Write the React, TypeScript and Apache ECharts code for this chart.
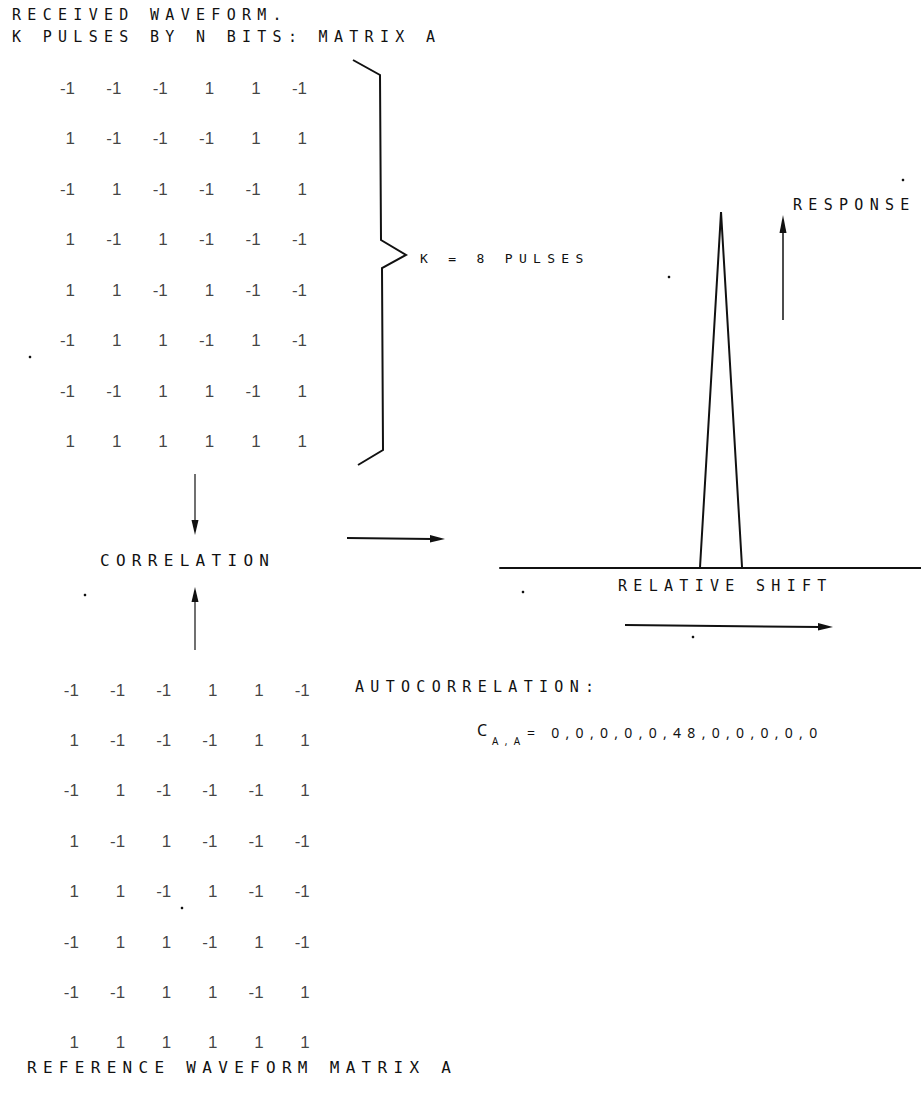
import React, { useEffect, useRef } from "react";
import * as echarts from "echarts";

// ---- data ----
const bitColumns = ["b1", "b2", "b3", "b4", "b5", "b6"];
const pulseRows = ["k1", "k2", "k3", "k4", "k5", "k6", "k7", "k8"];
const receivedMatrixA = [
  [-1, -1, -1, 1, 1, -1],
  [1, -1, -1, -1, 1, 1],
  [-1, 1, -1, -1, -1, 1],
  [1, -1, 1, -1, -1, -1],
  [1, 1, -1, 1, -1, -1],
  [-1, 1, 1, -1, 1, -1],
  [-1, -1, 1, 1, -1, 1],
  [1, 1, 1, 1, 1, 1],
];
const referenceMatrixA = [
  [-1, -1, -1, 1, 1, -1],
  [1, -1, -1, -1, 1, 1],
  [-1, 1, -1, -1, -1, 1],
  [1, -1, 1, -1, -1, -1],
  [1, 1, -1, 1, -1, -1],
  [-1, 1, 1, -1, 1, -1],
  [-1, -1, 1, 1, -1, 1],
  [1, 1, 1, 1, 1, 1],
];
const relativeShifts = [-5, -4, -3, -2, -1, 0, 1, 2, 3, 4, 5];
const autocorrelation = [0, 0, 0, 0, 0, 48, 0, 0, 0, 0, 0];

const titleLine1 = "RECEIVED WAVEFORM.";
const titleLine2 = "K PULSES BY N BITS: MATRIX A";
const braceLabel = "K = 8 PULSES";
const correlationLabel = "CORRELATION";
const responseLabel = "RESPONSE";
const shiftLabel = "RELATIVE SHIFT";
const autoLabel = "AUTOCORRELATION:";
const referenceLabel = "REFERENCE WAVEFORM MATRIX A";

const INK = "#111";
const MONO = "DejaVu Sans Mono";

function matrixPoints(m: number[][]) {
  const out: number[][] = [];
  m.forEach((row, r) => row.forEach((v, c) => out.push([c, r, v])));
  return out;
}

function txt(text: string, x: number, y: number, size: number, family = MONO) {
  return {
    type: "text",
    x,
    y,
    silent: true,
    style: {
      text,
      fill: INK,
      fontSize: size,
      fontFamily: family,
      textAlign: "left",
      textVerticalAlign: "middle",
      align: "left",
      verticalAlign: "middle",
    },
  };
}

function seg(x1: number, y1: number, x2: number, y2: number, w = 2) {
  return {
    type: "line",
    silent: true,
    shape: { x1, y1, x2, y2 },
    style: { stroke: INK, lineWidth: w },
  };
}

function head(points: number[][]) {
  return { type: "polygon", silent: true, shape: { points }, style: { fill: INK } };
}

function speck(cx: number, cy: number) {
  return { type: "circle", silent: true, shape: { cx, cy, r: 1.3 }, style: { fill: INK } };
}

const matrixLabel = {
  show: true,
  position: "inside",
  align: "right",
  verticalAlign: "middle",
  fontFamily: "Liberation Sans",
  fontSize: 17,
  color: INK,
  formatter: (p: any) => String(p.value[2]),
};

const option: any = {
  animation: false,
  backgroundColor: "#fff",
  grid: [
    { left: 51.8, top: 62.75, width: 278.4, height: 404 },
    { left: 55.9, top: 664.8, width: 277, height: 403.2 },
    { left: 500, top: 212, width: 421, height: 356 },
  ],
  xAxis: [
    { type: "category", gridIndex: 0, data: bitColumns, show: false },
    { type: "category", gridIndex: 1, data: bitColumns, show: false },
    {
      type: "value",
      gridIndex: 2,
      min: -10.5,
      max: 9.5,
      axisLine: { show: true, onZero: true, lineStyle: { color: INK, width: 2 } },
      axisTick: { show: false },
      axisLabel: { show: false },
      splitLine: { show: false },
    },
  ],
  yAxis: [
    { type: "category", gridIndex: 0, data: pulseRows, inverse: true, show: false },
    { type: "category", gridIndex: 1, data: pulseRows, inverse: true, show: false },
    { type: "value", gridIndex: 2, min: 0, max: 48, show: false },
  ],
  series: [
    {
      type: "scatter",
      xAxisIndex: 0,
      yAxisIndex: 0,
      data: matrixPoints(receivedMatrixA),
      symbolSize: 1,
      itemStyle: { color: "rgba(0,0,0,0)" },
      label: matrixLabel,
      silent: true,
      emphasis: { disabled: true },
    },
    {
      type: "scatter",
      xAxisIndex: 1,
      yAxisIndex: 1,
      data: matrixPoints(referenceMatrixA),
      symbolSize: 1,
      itemStyle: { color: "rgba(0,0,0,0)" },
      label: matrixLabel,
      silent: true,
      emphasis: { disabled: true },
    },
    {
      type: "line",
      xAxisIndex: 2,
      yAxisIndex: 2,
      data: relativeShifts.map((s, i) => [s, autocorrelation[i]]),
      symbol: "none",
      lineStyle: { color: INK, width: 2 },
      silent: true,
      emphasis: { disabled: true },
    },
  ],
  graphic: {
    elements: [
      txt(titleLine1, 12, 15, 15),
      txt(titleLine2, 12, 37, 15),
      // brace
      {
        type: "polyline",
        silent: true,
        shape: {
          points: [
            [353, 60],
            [380, 75],
            [381, 240],
            [406, 255],
            [382, 268],
            [383, 450],
            [358, 465],
          ],
        },
        style: { stroke: INK, lineWidth: 2, fill: null },
      },
      txt(braceLabel, 420, 258, 13),
      // correlation arrows
      seg(195, 474, 195, 524, 1.2),
      head([[191.5, 520], [198.5, 520], [195, 535]]),
      txt(correlationLabel, 100, 560, 16),
      seg(195, 598, 195, 650, 1.2),
      head([[191.5, 602], [198.5, 602], [195, 587]]),
      seg(347, 538, 432, 539, 2),
      head([[430, 535], [430, 542.5], [445, 539]]),
      // response arrow
      seg(783, 320, 783, 228, 1.5),
      head([[779.5, 233], [786.5, 233], [783, 215]]),
      txt(responseLabel, 793, 205, 15),
      txt(shiftLabel, 618, 586, 15),
      seg(625, 625, 820, 627, 2),
      head([[818, 623], [818, 630.5], [833, 627]]),
      txt(autoLabel, 355, 687, 15),
      txt("C", 477, 730, 16, "Noto Sans"),
      txt("A,A", 492, 741, 10, "Noto Sans"),
      txt("= " + autocorrelation.join(","), 527, 732, 14, "Noto Sans"),
      txt(referenceLabel, 27, 1067, 16),
      // scanning specks
      speck(669, 277),
      speck(30, 357),
      speck(85, 595),
      speck(523, 592),
      speck(693, 637),
      speck(903, 180),
      speck(182, 908),
    ],
  },
};

const css = `
.drawing text { letter-spacing: 6.3px; }
.drawing text[style*="Liberation"] { letter-spacing: 0; }
`;

export default function App() {
  const ref = useRef<HTMLDivElement>(null);
  useEffect(() => {
    if (!ref.current) return;
    const chart = echarts.init(ref.current, null, { renderer: "svg" });
    chart.setOption(option);
    return () => chart.dispose();
  }, []);
  return (
    <>
      <style>{css}</style>
      <div
        ref={ref}
        className="drawing"
        style={{ position: "absolute", left: 0, top: 0, width: 921, height: 1093, background: "#fff" }}
      />
    </>
  );
}
